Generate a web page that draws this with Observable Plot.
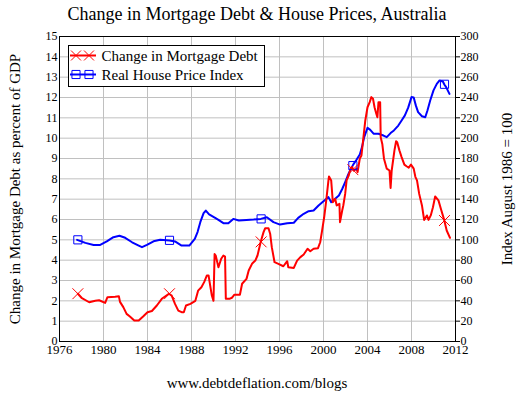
<!DOCTYPE html>
<html><head><meta charset="utf-8">
<script src="https://cdn.jsdelivr.net/npm/d3@7"></script>
<script src="https://cdn.jsdelivr.net/npm/@observablehq/plot@0.6"></script>
<style>
body{margin:0;background:#fff;font-family:"Liberation Serif",serif;}
#wrap{width:522px;height:393px;position:relative;overflow:hidden;background:#fff}
#title{width:514px;text-align:center;font-size:18px;height:26px;line-height:28px;color:#000}
#chart{height:335px}
#caption{width:514px;text-align:center;font-size:15px;margin-top:13px;line-height:18px;color:#000}
</style></head><body>
<div id="wrap">
<div id="title">Change in Mortgage Debt &amp; House Prices, Australia</div>
<div id="chart"></div>
<div id="caption">www.debtdeflation.com/blogs</div>
</div>
<script>
// Change in mortgage debt, % of GDP (left axis)
const debtYears = [1977.67,1978.0,1978.7,1979.25,1979.6,1980.15,1980.36,1981.06,1981.4,1981.5,1981.8,1982.1,1982.4,1982.8,1983.2,1983.6,1984.0,1984.4,1984.85,1985.3,1985.95,1986.2,1986.5,1986.8,1987.1,1987.3,1987.5,1987.9,1988.35,1988.6,1988.9,1989.15,1989.4,1989.55,1989.7,1989.85,1990.0,1990.1,1990.2,1990.45,1990.7,1990.9,1991.05,1991.12,1991.45,1991.67,1991.9,1992.4,1992.6,1993.0,1993.2,1993.5,1993.8,1994.0,1994.3,1994.55,1994.7,1995.0,1995.15,1995.3,1995.55,1995.9,1996.35,1996.7,1996.8,1997.3,1997.6,1997.9,1998.2,1998.55,1998.8,1999.1,1999.5,1999.7,1999.85,2000.06,2000.25,2000.45,2000.5,2000.7,2000.85,2001.06,2001.2,2001.45,2001.5,2001.7,2001.8,2001.97,2002.1,2002.3,2002.45,2002.6,2002.75,2003.0,2003.1,2003.3,2003.45,2003.6,2003.8,2004.0,2004.2,2004.35,2004.5,2004.64,2004.8,2004.9,2005.0,2005.15,2005.2,2005.35,2005.5,2005.75,2006.0,2006.1,2006.2,2006.35,2006.45,2006.6,2006.7,2006.9,2007.1,2007.35,2007.55,2007.75,2007.95,2008.2,2008.35,2008.5,2008.7,2008.95,2009.15,2009.4,2009.55,2009.75,2009.95,2010.15,2010.45,2010.67,2010.97,2011.2,2011.5];
const debtValues = [2.35,2.15,1.93,2.0,2.03,1.9,2.18,2.2,2.22,1.95,1.69,1.36,1.23,1.03,1.03,1.23,1.44,1.5,1.77,2.1,2.35,2.26,1.85,1.52,1.44,1.44,1.77,1.85,2.0,2.5,2.67,2.92,3.25,3.25,2.75,2.26,2.0,4.3,4.23,3.65,4.07,4.23,4.18,2.1,2.1,2.15,2.3,2.3,2.84,3.08,3.49,3.82,3.98,4.23,4.92,5.38,5.57,5.57,5.3,4.64,3.9,3.82,3.7,3.95,3.65,3.62,3.98,4.15,4.28,4.56,4.44,4.56,4.59,4.88,5.38,6.11,6.94,7.92,8.12,7.92,6.85,7.02,6.69,6.77,5.87,6.44,6.69,7.26,7.92,8.17,8.5,8.58,8.4,8.5,8.33,9.0,9.15,9.89,10.87,11.52,11.77,12.02,11.94,11.52,11.2,11.03,11.77,11.77,10.05,9.7,8.99,8.5,8.41,7.55,8.41,9.0,9.4,9.85,9.8,9.4,9.07,8.7,8.62,8.55,8.7,8.5,8.1,7.92,7.26,6.69,5.98,6.2,5.98,6.2,6.6,7.13,6.94,6.53,5.98,5.46,5.1];

// Real house price index, August 1986 = 100 (right axis)
const priceYears = [1977.6,1978.35,1979.1,1979.7,1980.3,1980.9,1981.45,1981.97,1982.6,1983.2,1983.5,1983.95,1984.55,1985.15,1986.0,1986.5,1987.1,1987.8,1988.3,1988.55,1988.8,1989.1,1989.3,1989.6,1990.15,1990.45,1990.9,1991.35,1991.8,1992.3,1993.0,1993.65,1994.3,1994.85,1995.45,1996.05,1996.7,1997.3,1997.7,1998.2,1998.65,1999.1,1999.55,2000.0,2000.45,2000.7,2001.06,2001.4,2001.7,2001.97,2002.3,2002.7,2003.0,2003.3,2003.5,2003.7,2004.0,2004.25,2004.55,2005.0,2005.45,2005.75,2006.1,2006.4,2006.8,2007.1,2007.4,2007.7,2008.0,2008.2,2008.4,2008.6,2008.95,2009.25,2009.45,2009.7,2010.0,2010.3,2010.55,2010.85,2011.0,2011.15,2011.45];
const priceIndex = [100,97,95,95,98.4,102.6,104,102,97.6,94.4,92.8,95,98.6,100,99.4,98.4,94.4,94.4,101,107.6,117.4,126.2,128.8,125,121.6,119.6,116.4,116.4,120.6,119,119.6,120,120.6,122.2,117.4,115,116.4,116.8,121.6,125.6,128.2,128.8,133.8,138,142,137,140.4,143.6,150,156.8,165.6,174,178.8,184,191.2,201,210.2,208.2,204.4,204.4,202.6,201,205,207.6,212.4,217.4,222.4,230,240.4,240,232,225.6,221.6,220.6,227.2,237,247,253.4,256.8,255.8,252.6,250.2,243.6];

// Marker points
const markerYears = [1977.67,1986.0,1994.33,2002.67,2011.0];
const debtMarkers = [2.35,2.35,4.9,8.45,5.95];
const priceMarkers = [100,99.5,120.6,173,253];

const xTicks = [1976,1980,1984,1988,1992,1996,2000,2004,2008,2012];
const leftTicks = [0,1,2,3,4,5,6,7,8,9,10,11,12,13,14,15];
const rightTicks = [0,20,40,60,80,100,120,140,160,180,200,220,240,260,280,300];
const seriesNames = ["Change in Mortgage Debt","Real House Price Index"];
const leftLabel = "Change in Mortgage Debt as percent of GDP";
const rightLabel = "Index August 1986 = 100";
const RATIO = 20; // right axis units per left axis unit

const debt = debtYears.map((y,i)=>({year:y, v:debtValues[i]}));
const price = priceYears.map((y,i)=>({year:y, idx:priceIndex[i]}));
const debtM = markerYears.map((y,i)=>({year:y, v:debtMarkers[i]}));
const priceM = markerYears.map((y,i)=>({year:y, idx:priceMarkers[i]}));

const SERIF = "'Liberation Serif', serif";

const plot = Plot.plot({
  width: 522, height: 335,
  marginLeft: 59, marginRight: 67, marginTop: 10, marginBottom: 20,
  style: {fontSize: "12px", color: "#000", background: "#fff", overflow: "visible"},
  x: {domain: [1976, 2012]},
  y: {domain: [0, 15]},
  marks: [
    Plot.gridX(xTicks.slice(1, -1), {stroke: "#c0c0c0", strokeOpacity: 1}),
    Plot.gridY(leftTicks.slice(1, -1), {stroke: "#c0c0c0", strokeOpacity: 1}),
    Plot.axisX(xTicks, {anchor: "bottom", tickSize: 0, tickPadding: 3, tickFormat: d => String(d), fontSize: 13, label: null, fontVariant: "normal"}),
    Plot.axisY(leftTicks, {anchor: "left", tickSize: 0, tickPadding: 2, label: null, fontVariant: "normal"}),
    Plot.axisY(rightTicks.map(t => t / RATIO), {anchor: "right", tickSize: 4, tickPadding: 1, tickFormat: d => String(Math.round(d * RATIO)), label: null, fontVariant: "normal"}),
    Plot.line(price, {x: "year", y: d => d.idx / RATIO, stroke: "#0000ff", strokeWidth: 2}),
    Plot.line(debt, {x: "year", y: "v", stroke: "#ff0000", strokeWidth: 2}),
    Plot.dot(priceM, {x: "year", y: d => d.idx / RATIO, symbol: "square", r: 4.6, stroke: "#0000ff", fill: "none", strokeWidth: 1}),
    Plot.dot(debtM, {x: "year", y: "v", symbol: "times", r: 5, stroke: "#ff0000", strokeWidth: 1}),
    Plot.frame({stroke: "#000"}),
    Plot.text([leftLabel], {frameAnchor: "left", textAnchor: "middle", rotate: -90, dx: -44, fontSize: 15, text: d => d}),
    Plot.text([rightLabel], {frameAnchor: "right", textAnchor: "middle", rotate: -90, dx: 52, fontSize: 15, text: d => d})
  ]
});
document.getElementById("chart").appendChild(plot);

// Legend
const svg = d3.select(plot);
const lg = svg.append("g");
lg.append("rect").attr("x", 68.5).attr("y", 19.5).attr("width", 196).attr("height", 41)
  .attr("fill", "#fff").attr("stroke", "#000");
const rows = [{name: seriesNames[0], color: "#ff0000", sym: d3.symbolTimes, y: 29.5},
              {name: seriesNames[1], color: "#0000ff", sym: d3.symbolSquare, y: 48.5}];
rows.forEach(r => {
  lg.append("line").attr("x1", 70).attr("x2", 96).attr("y1", r.y).attr("y2", r.y)
    .attr("stroke", r.color).attr("stroke-width", 2);
  [76, 89].forEach(cx => {
    lg.append("path").attr("d", d3.symbol(r.sym, 66)()).attr("transform", `translate(${cx},${r.y})`)
      .attr("fill", "none").attr("stroke", r.color).attr("stroke-width", 1);
  });
  lg.append("text").attr("x", 101.5).attr("y", r.y).attr("dy", "0.35em")
    .attr("text-anchor", "start").attr("font-size", 15).attr("fill", "#000").text(r.name);
});
// serif font on every text of the chart
svg.attr("font-family", SERIF).style("font-family", SERIF);
svg.selectAll("g").attr("font-family", null);
svg.selectAll("text").attr("font-family", SERIF).style("font-family", SERIF);
</script>
</body></html>
